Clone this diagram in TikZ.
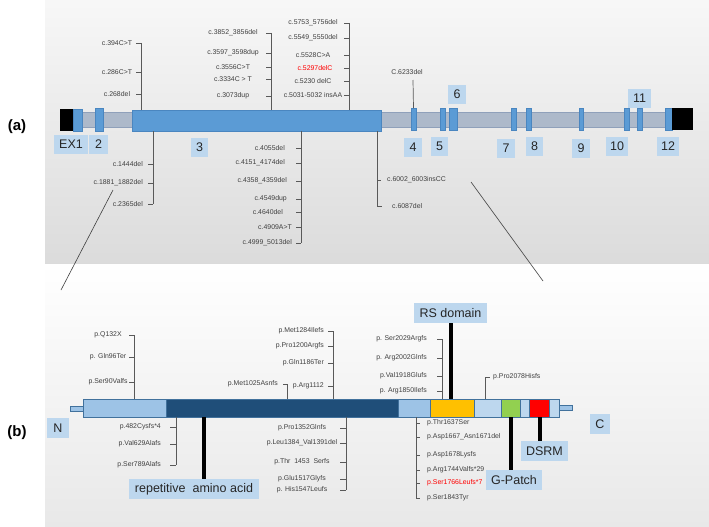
\documentclass[tikz,border=0pt]{standalone}
\usepackage{fontspec}
\setmainfont{Liberation Sans}
\definecolor{exon}{HTML}{5B9BD5}
\definecolor{exonb}{HTML}{4A86C0}
\definecolor{intron}{HTML}{ADB9CA}
\definecolor{intronb}{HTML}{8FA0BA}
\definecolor{lblbg}{HTML}{BDD7EE}
\definecolor{ltxt}{HTML}{262626}
\definecolor{mtxt}{HTML}{404040}
\definecolor{mln}{HTML}{595959}
\definecolor{pl1}{HTML}{9DC3E6}
\definecolor{pdark}{HTML}{1F4E79}
\definecolor{pyel}{HTML}{FFC000}
\definecolor{pgrn}{HTML}{92D050}
\definecolor{pbord}{HTML}{41719C}
\begin{document}
\begin{tikzpicture}[x=1pt,y=-1pt,
  shp/.style={inner sep=0pt,outer sep=0pt,anchor=north west},
  ex/.style={shp,fill=exon,draw=exonb,line width=0.4pt},
  seg/.style={shp,draw=pbord,line width=0.6pt,minimum height=18pt},
  elbl/.style={fill=lblbg,text=ltxt,inner sep=0pt,minimum height=19pt,font=\fontsize{12.5}{14}\selectfont},
  dom/.style={fill=lblbg,text=ltxt,inner sep=0pt,minimum height=20pt,font=\fontsize{12.5}{14}\selectfont},
  mut/.style={text=mtxt,inner sep=0pt,font=\fontsize{6.9}{7.5}\selectfont},
  mutr/.style={mut,text=red},
  mline/.style={draw=mln,line width=0.7pt},
  thick line/.style={draw=black,line width=4pt},
  zline/.style={draw=black!75,line width=0.6pt}]
\useasboundingbox (0,0) rectangle (709,527);
% backgrounds
\shade[top color=white!97!black, bottom color=black!14] (45,0) rectangle (709,264);
\shade[top color=white, bottom color=black!9] (45,264) rectangle (709,527);
% panel labels
\node[font=\fontsize{15}{17}\selectfont\bfseries] (pa) at (17,127) {(a)};
\node[font=\fontsize{15}{17}\selectfont\bfseries] (pb) at (17,433) {(b)};

% ===== gene structure =====
\node[shp,fill=intron,draw=intronb,line width=0.5pt,minimum width=583pt,minimum height=15pt] (intr) at (82,112) {};
\node[shp,fill=black,minimum width=13pt,minimum height=22pt] (e1k) at (60,109) {};
\node[ex,minimum width=9pt,minimum height=22pt] (e1) at (73,109) {};
\node[ex,minimum width=8pt,minimum height=23pt] (e2) at (95,108) {};
\node[ex,minimum width=249pt,minimum height=21pt] (e3) at (132,110) {};
\node[ex,minimum width=5pt,minimum height=22pt] (e4) at (411,108) {};
\node[ex,minimum width=5pt,minimum height=22pt] (e5) at (440,108) {};
\node[ex,minimum width=8pt,minimum height=22pt] (e6) at (449,108) {};
\node[ex,minimum width=5pt,minimum height=22pt] (e7) at (511,108) {};
\node[ex,minimum width=5pt,minimum height=22pt] (e8) at (526,108) {};
\node[ex,minimum width=4.5pt,minimum height=22pt] (e9) at (579,108) {};
\node[ex,minimum width=5pt,minimum height=22pt] (e10) at (624,108) {};
\node[ex,minimum width=5pt,minimum height=22pt] (e11) at (637,108) {};
\node[ex,minimum width=7pt,minimum height=22pt] (e12) at (665,108) {};
\node[shp,fill=black,minimum width=21pt,minimum height=22pt] (e12k) at (672,108) {};

% exon labels
\node[elbl,minimum width=34pt] (l1) at (71,144) {EX1};
\node[elbl,minimum width=19pt] (l2) at (98.5,144) {2};
\node[elbl,minimum width=17pt] (l3) at (199.5,147.5) {3};
\node[elbl,minimum width=18pt] (l4) at (413,147.5) {4};
\node[elbl,minimum width=17pt] (l5) at (439.5,146.5) {5};
\node[elbl,minimum width=18pt] (l6) at (457,94.5) {6};
\node[elbl,minimum width=18pt] (l7) at (506,148) {7};
\node[elbl,minimum width=17pt] (l8) at (534.5,146.5) {8};
\node[elbl,minimum width=18pt] (l9) at (581,148) {9};
\node[elbl,minimum width=22pt] (l10) at (617,146.5) {10};
\node[elbl,minimum width=23pt] (l11) at (639.5,98) {11};
\node[elbl,minimum width=22pt] (l12) at (668,146.5) {12};

% group A up
\foreach \i/\t/\y in {1/{c.394C>T}/43, 2/{c.286C>T}/72, 3/{c.268del}/94} {
  \node[mut] (au\i) at (117,\y) {\t};
  \draw[mline] (au\i.east -| 136,0) -- (au\i.east -| 141,0);
}
\draw[mline] (au1.east -| 141,0) -- (e3.north -| 141,0);
% group A down
\foreach \i/\t/\y in {1/{c.1444del}/164, 2/{c.1881\_1882del}/183, 3/{c.2365del}/204} {
  \node[mut,anchor=east] (ad\i) at (143,\y) {\t};
  \draw[mline] (ad\i.east -| 148,0) -- (ad\i.east -| 153,0);
}
\draw[mline] (e3.south -| 153,0) -- (ad3.east -| 153,0);
% group B up
\foreach \i/\t/\y in {1/{c.3852\_3856del}/33, 2/{c.3597\_3598dup}/53, 3/{c.3556C>T}/67, 4/{c.3334C > T}/79, 5/{c.3073dup}/96} {
  \node[mut] (bu\i) at (233,\y) {\t};
  \draw[mline] (bu\i.east -| 266,0) -- (bu\i.east -| 271,0);
}
\draw[mline] (bu1.east -| 271,0) -- (e3.north -| 271,0);
% group C up
\foreach \i/\t/\y in {1/{c.5753\_5756del}/23, 2/{c.5549\_5550del}/38, 3/{c.5528C>A}/55, 5/{c.5230 delC}/81, 6/{c.5031-5032 insAA}/95} {
  \node[mut] (cu\i) at (313,\y) {\t};
  \draw[mline] (cu\i.east -| 344,0) -- (cu\i.east -| 349,0);
}
\node[mutr] (cu4) at (315,68) {c.5297delC};
\draw[mline] (cu4.east -| 344,0) -- (cu4.east -| 349,0);
\draw[mline] (cu1.east -| 349,0) -- (e3.north -| 349,0);
% group D down
\foreach \i/\t/\x/\y in {1/{c.4055del}/285/148, 2/{c.4151\_4174del}/285/163, 3/{c.4358\_4359del}/287/181, 4/{c.4549dup}/287/199, 5/{c.4640del}/283/212, 6/{c.4909A>T}/292/227, 7/{c.4999\_5013del}/292/243} {
  \node[mut,anchor=east] (dd\i) at (\x,\y) {\t};
  \draw[mline] (dd\i.east -| 296,0) -- (dd\i.east -| 301,0);
}
\draw[mline] (e3.south -| 301,0) -- (dd7.east -| 301,0);
% group E down
\node[mut,anchor=west] (ed1) at (387,180) {c.6002\_6003insCC};
\node[mut,anchor=west] (ed2) at (392,206) {c.6087del};
\draw[mline] (ed1.west -| 377,0) -- (ed1.west -| 381,0);
\draw[mline] (e3.south -| 377,0) -- (ed2.west -| 377,0) -- (ed2.west -| 382,0);
% group F
\node[mut] (fu1) at (407,72) {C.6233del};
\coordinate (ftop) at (413,80);
\draw[mline] (ftop) -- (e4.north);

% zoom lines
\coordinate (z1a) at (113,190); \coordinate (z1b) at (61,290);
\coordinate (z2a) at (471,182); \coordinate (z2b) at (543,281);
\draw[zline] (z1a) -- (z1b);
\draw[zline] (z2a) -- (z2b);

% ===== protein =====
\node[shp,fill=pl1,draw=pbord,line width=0.5pt,minimum width=13pt,minimum height=5pt] (nst) at (70,406) {};
\node[shp,fill=pl1,draw=pbord,line width=0.5pt,minimum width=13pt,minimum height=5pt] (cst) at (559,405) {};
\node[seg,fill=pl1,minimum width=83pt] (s1) at (83,399) {};
\node[seg,fill=pdark,minimum width=232pt] (s2) at (166,399) {};
\node[seg,fill=pl1,minimum width=32pt] (s3) at (398,399) {};
\node[seg,fill=pyel,minimum width=44pt] (s4) at (430,399) {};
\node[seg,fill=lblbg,minimum width=27pt] (s5) at (474,399) {};
\node[seg,fill=pgrn,minimum width=19pt] (s6) at (501,399) {};
\node[seg,fill=lblbg,minimum width=9pt] (s7) at (520,399) {};
\node[seg,fill=red,minimum width=20pt] (s8) at (529,399) {};
\node[seg,fill=lblbg,minimum width=10pt] (s9) at (549,399) {};

% domain labels
\node[dom,minimum width=22pt] (nl) at (58,428) {N};
\node[dom,minimum width=20pt] (cl) at (600,424) {C};
\node[dom,minimum width=130pt] (rep) at (194,489) {repetitive~ amino acid};
\node[dom,minimum width=73pt] (rs) at (450.5,313) {RS domain};
\node[dom,minimum width=56pt] (gp) at (514,480) {G-Patch};
\node[dom,minimum width=47pt] (ds) at (544.5,451) {DSRM};
\draw[thick line] (s2.south -| 204,0) -- (rep.north -| 204,0);
\draw[thick line] (rs.south) -- (rs.south |- s4.north);
\draw[thick line] (s6.south -| 511,0) -- (gp.north -| 511,0);
\draw[thick line] (s8.south -| 540,0) -- (ds.north -| 540,0);

% G1 up
\foreach \i/\t/\y in {1/{p.Q132X}/335, 2/{p. Gln96Ter}/357, 3/{p.Ser90Valfs}/382} {
  \node[mut] (g1\i) at (108,\y) {\t};
  \draw[mline] (g1\i.east -| 129,0) -- (g1\i.east -| 134,0);
}
\draw[mline] (g11.east -| 134,0) -- (s1.north -| 134,0);
% G2 down
\foreach \i/\t/\y in {1/{p.482Cysfs*4}/427, 2/{p.Val629Alafs}/444, 3/{p.Ser789Alafs}/465} {
  \node[mut,anchor=east] (g2\i) at (161,\y) {\t};
  \draw[mline] (g2\i.east -| 170,0) -- (g2\i.east -| 176,0);
}
\draw[mline] (s2.south -| 176,0) -- (g23.east -| 176,0);
% G3 up
\foreach \i/\t/\y in {1/{p.Met1284Ilefs}/331, 2/{p.Pro1200Argfs}/346, 3/{p.Gln1186Ter}/363, 4/{p.Arg1112}/386} {
  \node[mut,anchor=east] (g3\i) at (324,\y) {\t};
  \draw[mline] (g3\i.east -| 328,0) -- (g3\i.east -| 333,0);
}
\draw[mline] (g31.east -| 333,0) -- (s2.north -| 333,0);
\node[mut,anchor=east] (g3b) at (278,384) {p.Met1025Asnfs};
\draw[mline] (g3b.east -| 283,0) -- (g3b.east -| 287,0) -- (s2.north -| 287,0);
% G4 up
\foreach \i/\t/\y in {1/{p. Ser2029Argfs}/339, 2/{p. Arg2002Glnfs}/358, 3/{p.Val1918Glufs}/376, 4/{p. Arg1850Ilefs}/391} {
  \node[mut,anchor=east] (g4\i) at (427,\y) {\t};
  \draw[mline] (g4\i.east -| 437,0) -- (g4\i.east -| 442,0);
}
\draw[mline] (g41.east -| 442,0) -- (s4.north -| 442,0);
% G5 up
\node[mut,anchor=west] (g5) at (493,377) {p.Pro2078Hisfs};
\draw[mline] (s5.north -| 485,0) -- (g5.west -| 485,0) -- (g5.west -| 490,0);
% G6 down
\foreach \i/\t/\y in {1/{p.Thr1637Ser}/423, 2/{p.Asp1667\_Asn1671del}/437, 3/{p.Asp1678Lysfs}/455, 4/{p.Arg1744Valfs*29}/470, 6/{p.Ser1843Tyr}/498} {
  \node[mut,anchor=west] (g6\i) at (427,\y) {\t};
  \draw[mline] (g6\i.west -| 416,0) -- (g6\i.west -| 420,0);
}
\node[mutr,anchor=west] (g65) at (427,483) {p.Ser1766Leufs*7};
\draw[mline] (g65.west -| 416,0) -- (g65.west -| 420,0);
\draw[mline] (s3.south -| 416,0) -- (g66.west -| 416,0);
% G7 down
\foreach \i/\t/\y in {1/{p.Pro1352Glnfs}/428, 2/{p.Leu1384\_Val1391del}/443, 3/{p.Thr~ 1453~ Serfs}/462, 4/{p.Glu1517Glyfs}/479, 5/{p. His1547Leufs}/490} {
  \node[mut] (g7\i) at (302,\y) {\t};
  \draw[mline] (g7\i.east -| 340,0) -- (g7\i.east -| 346,0);
}
\draw[mline] (s2.south -| 346,0) -- (g75.east -| 346,0);
\end{tikzpicture}
\end{document}
